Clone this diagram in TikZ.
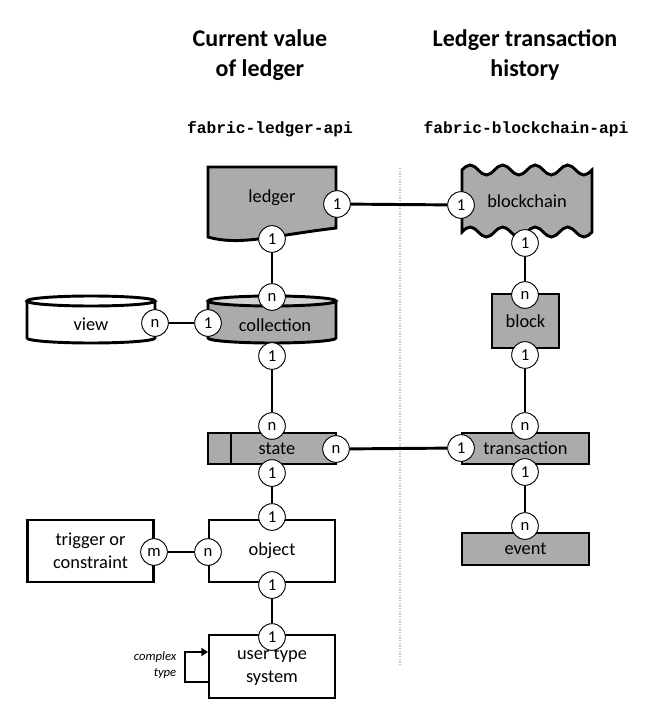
\documentclass[tikz,border=0pt]{standalone}
\usepackage{fontspec}
\setmainfont{Carlito}
\setmonofont{Liberation Mono}
\usetikzlibrary{positioning,arrows.meta}
\definecolor{boxgray}{RGB}{173,170,170}
\definecolor{topgray}{RGB}{212,210,210}
\tikzset{
  shp/.style={line width=2.2pt},
  box/.style={shp,draw,rectangle,inner sep=0pt,align=center,font=\fontsize{13.8}{17}\selectfont},
  lbl/.style={font=\fontsize{13.8}{17}\selectfont},
  card/.style={circle,draw,line width=0.7pt,fill=white,minimum size=20pt,inner sep=0pt,font=\fontsize{12.5}{12.5}\selectfont},
  link/.style={line width=2.2pt},
  title/.style={font=\bfseries\fontsize{18}{22.5}\selectfont,align=center},
  api/.style={font=\ttfamily\bfseries\fontsize{12.2}{14}\selectfont}
}

\begin{document}
\begin{tikzpicture}[x=0.75pt,y=-0.75pt]
\useasboundingbox (0,0) rectangle (654,710);
\node[title] (tleft) at (260,55) {Current value\\of ledger};
\node[title] (tright) at (525,55) {Ledger transaction\\history};
\node[api] (apileft) at (270,129) {fabric-ledger-api};
\node[api] (apiright) at (526,129) {fabric-blockchain-api};
\draw[gray!45,line width=0.8pt,dash pattern=on 1pt off 1pt] (400,168)--(400,666);
% ledger side
\draw[shp,fill=boxgray](208,167)--(336,167)--(336,228) .. controls (270,236) and (240,246) .. (208,237)--cycle;
\node[lbl] (ledger) at (272,198) {ledger};
\draw[shp,fill=white](27,301)--(27,338) arc (180:0:64 and 5)--(155,301);
\draw[shp,fill=white](91,301) ellipse (64 and 5);
\node[lbl] (view) at (91,324) {view};
\draw[shp,fill=boxgray](208,301)--(208,338) arc (180:0:64 and 5)--(336,301);
\draw[shp,fill=topgray](272,301) ellipse (64 and 5);
\node[lbl] (collection) at (275,325) {collection};
\draw[shp,fill=boxgray](208,433) rectangle (336,464);
\draw[shp](231,433)--(231,464);
\node[lbl] (state) at (277,449) {state};
\node[box,fill=white,minimum width=94.5pt,minimum height=46.5pt] (trigger) at (90.5,551) {trigger or\\constraint};
\node[box,fill=white,minimum width=94.5pt,minimum height=46.5pt] (object) at (272,551) {object};
\node[box,fill=white,minimum width=94.5pt,minimum height=47.25pt] (uts) at (272,666.5) {user type\\system};
% blockchain side
\draw[shp,fill=boxgray](462,170) \foreach \i in {1,...,4}{ sin ++(8.125,-5) cos ++(8.125,5) sin ++(8.125,5) cos ++(8.125,-5)}
  --(592,232) \foreach \i in {1,...,4}{ sin ++(-8.125,5) cos ++(-8.125,-5) sin ++(-8.125,-5) cos ++(-8.125,5)}--cycle;
\node[lbl] (blockchain) at (527,201) {blockchain};
\node[box,fill=boxgray,minimum width=50.25pt,minimum height=40.5pt] (block) at (525.5,321) {block};
\node[box,fill=boxgray,minimum width=95.25pt,minimum height=23.25pt] (trans) at (525.5,448.5) {transaction};
\node[box,fill=boxgray,minimum width=95.25pt,minimum height=24pt] (event) at (525.5,549) {event};
% cardinalities
\node[card] (ledger-r) at (337,204) {1};
\node[card] (ledger-b) at (272,239) {1};
\node[card] (chain-l) at (461,205) {1};
\node[card] (chain-b) at (525,243) {1};
\node[card] (view-r) at (155,323) {n};
\node[card] (coll-l) at (208,323) {1};
\node[card] (coll-t) at (272,297) {n};
\node[card] (coll-b) at (272,356) {1};
\node[card] (state-t) at (272,426) {n};
\node[card] (state-r) at (336,449) {n};
\node[card] (state-b) at (272,473) {1};
\node[card] (block-t) at (525,295) {n};
\node[card] (block-b) at (525,355) {1};
\node[card] (trans-t) at (525,426) {n};
\node[card] (trans-l) at (461,448) {1};
\node[card] (trans-b) at (525,472) {1};
\node[card] (event-t) at (525,526) {n};
\node[card] (trig-r) at (154,552) {m};
\node[card] (obj-l) at (208,552) {n};
\node[card] (obj-t) at (272,517) {1};
\node[card] (obj-b) at (272,585) {1};
\node[card] (uts-t) at (272,637) {1};
% links
\draw[link](ledger-r)--(chain-l);
\draw[link](ledger-b)--(coll-t);
\draw[link](view-r)--(coll-l);
\draw[link](coll-b)--(state-t);
\draw[link](state-r)--(trans-l);
\draw[link](state-b)--(obj-t);
\draw[link](trig-r)--(obj-l);
\draw[link](obj-b)--(uts-t);
\draw[link](chain-b)--(block-t);
\draw[link](block-b)--(trans-t);
\draw[link](trans-b)--(event-t);
% complex type
\coordinate (loop-out) at (209,682);
\coordinate (loop-in) at (208,652);
\draw[line width=1.6pt,-{Triangle[length=5pt,width=6pt]}](loop-out)--(185,682)|-(loop-in);
\node[font=\itshape\fontsize{9.5}{11.5}\selectfont,align=right,anchor=east] (cplx) at (181,665) {complex\\type};
\end{tikzpicture}
\end{document}
